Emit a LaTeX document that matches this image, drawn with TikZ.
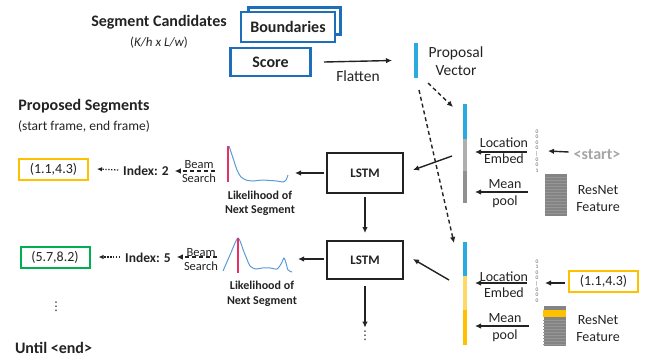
\documentclass[tikz,border=0pt]{standalone}
\usepackage{fontspec}
\setmainfont{Carlito}
\newfontfamily\dejavu{DejaVu Sans}
\usetikzlibrary{arrows.meta,calc}
\definecolor{txt}{RGB}{35,35,35}
\definecolor{boxblue}{RGB}{31,110,185}
\definecolor{pblue}{RGB}{41,171,226}
\definecolor{lgray}{RGB}{175,175,175}
\definecolor{mgray}{RGB}{145,145,145}
\definecolor{fgray}{RGB}{132,132,132}
\definecolor{stripe}{RGB}{150,150,150}
\definecolor{diggray}{RGB}{95,95,95}
\definecolor{yel}{RGB}{255,192,0}
\definecolor{lyel}{RGB}{255,217,102}
\definecolor{grn}{RGB}{0,176,80}
\definecolor{curve}{RGB}{91,155,213}
\definecolor{redl}{RGB}{232,48,100}
\definecolor{startgray}{RGB}{165,165,165}
\begin{document}
\begin{tikzpicture}[x=1pt,y=-1pt,
  every node/.style={text=txt,inner sep=0pt,outer sep=0pt},
  hdr/.style={font=\fontsize{16}{18}\selectfont\bfseries},
  reg/.style={font=\fontsize{15.5}{18}\selectfont,align=center},
  med/.style={font=\fontsize{14}{16}\selectfont,align=center},
  sml/.style={font=\fontsize{12.5}{14}\selectfont,align=center},
  lbl/.style={font=\fontsize{12}{14}\selectfont\bfseries,align=center},
  idx/.style={font=\fontsize{13.5}{15}\selectfont\bfseries},
  vdt/.style={font=\dejavu\fontsize{12}{14}\selectfont},
  bluebox/.style={draw=boxblue,line width=2.5pt,fill=white,font=\fontsize{16}{18}\selectfont\bfseries},
  lstmbox/.style={draw=txt,line width=2.5pt,fill=white,minimum width=76pt,font=\fontsize{13}{15}\selectfont\bfseries},
  segbox/.style={draw=#1,line width=2pt,minimum width=69pt,minimum height=21pt,font=\fontsize{14}{16}\selectfont},
  bar/.style={fill=#1,minimum width=4pt},
  arr/.style={-{Latex[length=6pt,width=5.5pt]},line width=1.4pt,draw=txt},
  darr/.style={arr,dash pattern=on 4pt off 3pt},
  dotarr/.style={-{Latex[length=5pt,width=4.5pt]},line width=1.3pt,draw=txt,dash pattern=on 1.3pt off 1.6pt},
  digs/.style={font=\fontsize{5.5}{5.6}\selectfont,align=center,text=diggray},
  res/.style={fill=fgray,minimum width=22pt}
]
\useasboundingbox (0,0) rectangle (646,360);

% headers
\node[hdr] (segcand) at (159,22) {Segment Candidates};
\node[font=\fontsize{13}{15}\selectfont] (khlw) at (159,43) {({\itshape K/h x L/w})};
\node[bluebox,minimum width=92pt,minimum height=27pt] (bndback) at (294.5,21) {};
\node[bluebox,minimum width=94pt,minimum height=30pt] (bnd) at (288,27) {Boundaries};
\node[bluebox,minimum width=80pt,minimum height=28pt] (score) at (270.5,62) {Score};

% proposal vector
\node[bar=pblue,minimum height=35pt] (pv) at (416,60.5) {};
\node[reg] (pvl) at (456,61) {Proposal\\Vector};
\draw[arr] ($(score.east)+(13.5,0)$) -- ($(pv.west)+(-22,0)$);
\node[reg] (flat) at (358,76) {Flatten};

% concat vectors
\node[bar=pblue,minimum height=35pt] (c1a) at (465,121.5) {};
\node[bar=lgray,minimum height=32pt] (c1b) at (465,155) {};
\node[bar=mgray,minimum height=32pt] (c1c) at (465,187) {};
\node[bar=pblue,minimum height=34pt] (c2a) at (465,259) {};
\node[bar=lyel,minimum height=34pt] (c2b) at (465,293) {};
\node[bar=yel,minimum height=35pt] (c2c) at (465,327.5) {};

\draw[darr] ($(pv.south)+(12,5)$) -- ($(c1a.north)+(-12,3)$);
\draw[darr] ($(pv.south)+(3,12)$) -- ($(c2a.north)+(-11,1)$);

% LSTMs
\node[lstmbox,minimum height=40pt] (lstm1) at (365,173) {LSTM};
\node[lstmbox,minimum height=38pt] (lstm2) at (365,260) {LSTM};
\draw[arr] ($(c1b.west)+(-11,1)$) -- ($(lstm1.east)+(10,-3)$);
\draw[arr] ($(c2b.west)+(-14,-13)$) -- ($(lstm2.east)+(10,-1)$);
\draw[arr] ($(lstm1.south)+(0,4)$) -- ($(lstm2.north)+(0,-8)$);
\node[vdt] (vd1) at (365,335.5) {⋮};
\draw[arr] ($(lstm2.south)+(0,7)$) -- ($(vd1.north)+(0,-3)$);

% location embed / mean pool (step 1)
\node[med] (loc1) at (504,151) {Location\\Embed};
\node[med,font=\fontsize{14}{17}\selectfont] (mp1) at (505,193.5) {Mean\\pool};
\node[digs] (dig1) at (537,151) {0\\0\\0\\0\\|\\0\\0\\1};
\node[hdr,text=startgray] (start) at (597,155) {<start>};
\node[res,minimum height=42pt] (res1) at (556,195) {};
\foreach \yy in {177,180,...,214} \draw[stripe,line width=0.35pt] (545,\yy) -- (567,\yy);
\node[med,font=\fontsize{14}{17}\selectfont] (rn1) at (598,198.5) {ResNet\\Feature};
\draw[arr] ($(loc1.east)+(-1,1)$) -- ($(c1b.east |- loc1.east)+(8,1)$);
\draw[arr] ($(res1.west |- mp1)+(-17,-1.5)$) -- ($(c1c.east |- mp1)+(8,-1.5)$);
\draw[arr] ($(start.west)+(-5,-3)$) -- ($(dig1.center)+(11,0)$);

% location embed / mean pool (step 2)
\node[med] (loc2) at (504,284.5) {Location\\Embed};
\node[med,font=\fontsize{14}{17}\selectfont] (mp2) at (505,328) {Mean\\pool};
\node[digs] (dig2) at (537,281) {0\\1\\0\\0\\|\\0\\0\\0};
\node[segbox=yel] (box3) at (603.5,281) {(1.1,4.3)};
\node[res,minimum height=40pt] (res2) at (554.5,326) {};
\foreach \yy in {320,323,...,344} \draw[stripe,line width=0.35pt] (543,\yy) -- (566,\yy);
\fill[yel] (543,310) rectangle (566,317);
\node[med,font=\fontsize{14}{17}\selectfont] (rn2) at (598,328.5) {ResNet\\Feature};
\draw[arr] ($(loc2.east)+(-1,-1.5)$) -- ($(c2b.east |- loc2.east)+(8,-1.5)$);
\draw[arr] ($(res2.west |- mp2)+(-15,-2)$) -- ($(c2c.east |- mp2)+(8,-2)$);
\draw[arr] ($(box3.west)+(-4,2)$) -- ($(dig2.center)+(8,2)$);

% left side
\node[hdr] (propseg) at (84,106) {Proposed Segments};
\node[font=\fontsize{13.5}{15}\selectfont] (sef) at (84,126) {(start frame, end frame)};
\node[segbox=yel] (box1) at (53.5,169.5) {(1.1,4.3)};
\node[segbox=grn] (box2) at (55,257) {(5.7,8.2)};
\node[idx] (index1) at (146,171) {Index: 2};
\node[idx] (index2) at (148,258) {Index: 5};
\node[vdt] (vd2) at (56,307) {⋮};
\node[hdr] (until) at (53.5,348) {Until <end>};

% likelihood plots
\node[minimum width=62pt,minimum height=37pt] (plot1) at (259,164.5) {};
\node[minimum width=71pt,minimum height=36pt] (plot2) at (258.5,255) {};
\draw[redl,line width=1.1pt] (228,146) -- (228,182);
\draw[curve,line width=1pt] plot[smooth,tension=0.4] coordinates {(229,146) (233,158) (237,170) (241,177) (246,180) (253,181) (262,180) (270,180.5) (277,181) (283,182) (286,180) (288,175)};
\draw[curve,line width=1pt] plot[smooth,tension=0.4] coordinates {(223,271) (230,255) (238,238) (244,252) (250,266) (256,269) (262,268) (270,268) (277,269) (281,264) (284,258) (286,263) (288,270) (292,272)};
\draw[redl,line width=1.1pt] (238,238) -- (238,273);
\node[lbl] (lk1) at (260,203) {Likelihood of\\Next Segment};
\node[lbl,font=\fontsize{12}{15}\selectfont\bfseries] (lk2) at (262,293.5) {Likelihood of\\Next Segment};

\draw[arr] ($(lstm1.west)+(-3,0)$) -- ($(lstm1.west -| plot1.east)+(5,0)$);
\draw[arr] ($(lstm2.west)+(-3,-1)$) -- ($(lstm2.west -| plot2.east)+(4,-1)$);

\node[sml] (bs1) at (199,172) {Beam\\Search};
\node[sml] (bs2) at (201,259.5) {Beam\\Search};
\draw[darr] ($(index1.east -| plot1.west)+(-13,0)$) -- ($(index1.east)+(6,0)$);
\draw[darr] ($(index2.east -| plot2.west)+(-6,-1)$) -- ($(index2.east)+(6,-1)$);
\draw[dotarr] ($(index1.west)+(-5,-1)$) -- ($(box1.east)+(9,-0.5)$);
\draw[dotarr] ($(index2.west)+(-5,-1)$) -- ($(box2.east)+(9,0)$);
\end{tikzpicture}
\end{document}
